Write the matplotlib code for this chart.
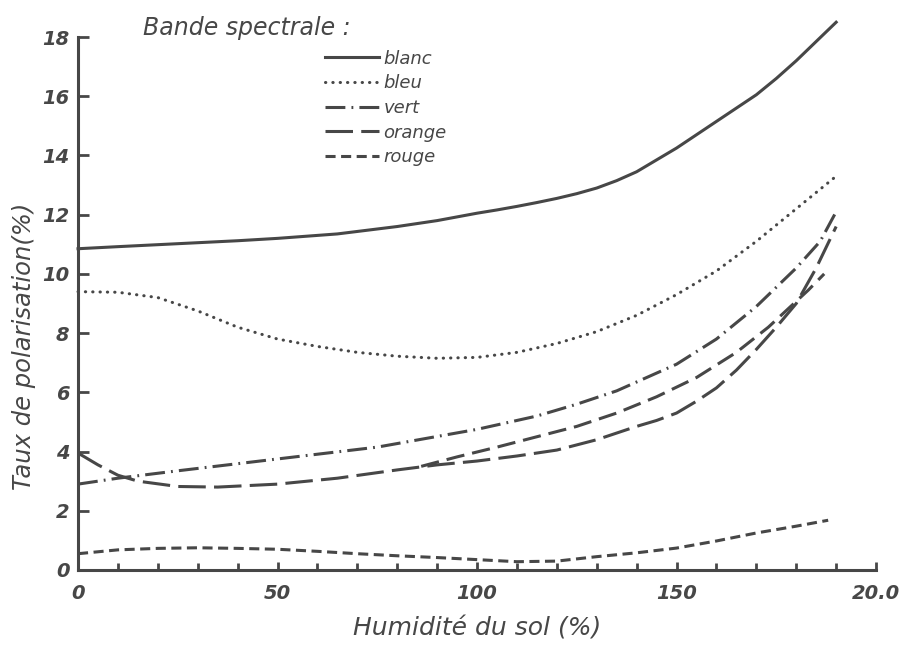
import matplotlib
matplotlib.use("Agg")
import matplotlib.pyplot as plt
from matplotlib.ticker import MultipleLocator

# values
x_blanc = [0, 10, 25, 40, 50, 65, 80, 90, 100, 105, 110, 115, 120, 125, 130, 135, 140, 145,
           150, 155, 160, 165, 170, 175, 180, 185, 190]
y_blanc = [10.85, 10.92, 11.02, 11.12, 11.2, 11.35, 11.6, 11.8, 12.05, 12.16, 12.28, 12.41, 12.55,
           12.71, 12.9, 13.15, 13.45, 13.85, 14.25, 14.7, 15.15, 15.6, 16.05, 16.6, 17.2, 17.85, 18.5]

x_bleu = [0, 10, 20, 30, 40, 50, 60, 70, 80, 90, 100, 110, 120, 130, 140, 150, 160, 170, 180, 190]
y_bleu = [9.4, 9.38, 9.2, 8.75, 8.2, 7.8, 7.55, 7.35, 7.22, 7.15, 7.18, 7.35, 7.65, 8.05, 8.6, 9.3, 10.1, 11.1, 12.2, 13.3]

x_vert = [0, 10, 25, 50, 75, 100, 115, 125, 135, 150, 160, 170, 180, 186, 190]
y_vert = [2.9, 3.1, 3.35, 3.75, 4.15, 4.75, 5.2, 5.6, 6.05, 6.95, 7.8, 8.9, 10.2, 11.1, 12.1]

x_orange = [0, 5, 10, 15, 25, 35, 50, 65, 80, 90, 100, 110, 120, 130, 140, 145, 150, 155, 160,
            165, 170, 175, 180, 185, 190]
y_orange = [3.95, 3.55, 3.2, 3.0, 2.82, 2.8, 2.9, 3.1, 3.38, 3.55, 3.68, 3.85, 4.05, 4.4, 4.85,
            5.05, 5.3, 5.7, 6.15, 6.75, 7.45, 8.2, 9.0, 10.2, 11.6]

# second long-dash curve branching off orange (no legend entry)
x_autre = [86, 95, 105, 115, 125, 135, 145, 155, 165, 173, 183, 187]
y_autre = [3.5, 3.82, 4.15, 4.5, 4.85, 5.3, 5.85, 6.5, 7.35, 8.2, 9.45, 10.0]

x_rouge = [0, 10, 20, 30, 40, 50, 60, 70, 80, 90, 100, 110, 120, 130, 140, 150, 160, 170, 180, 188]
y_rouge = [0.55, 0.68, 0.73, 0.75, 0.73, 0.7, 0.63, 0.55, 0.48, 0.42, 0.35, 0.28, 0.3, 0.45, 0.58, 0.74, 0.98, 1.25, 1.48, 1.68]

x_ticks = [0, 50, 100, 150, 200]
x_ticklabels = ["0", "50", "100", "150", "20.0"]
y_ticks = [0, 2, 4, 6, 8, 10, 12, 14, 16, 18]

ink = "#474747"
plt.rcParams['font.family'] = ['DejaVu Sans']
plt.rcParams['font.style'] = 'italic'

fig = plt.figure(figsize=(9, 6.45), dpi=100)
ax = fig.add_axes([0.0867, 0.1163, 0.8867, 0.8263])

lw = 2.2
ax.plot(x_blanc, y_blanc, color=ink, lw=lw, ls='-', label='blanc', clip_on=False)
ax.plot(x_bleu, y_bleu, color=ink, lw=lw, ls=(0, (0.1, 2.3)), dash_capstyle='round', label='bleu', clip_on=False)
ax.plot(x_vert, y_vert, color=ink, lw=lw, ls=(0, (6.5, 2.0, 0.6, 2.0)), label='vert', clip_on=False)
ax.plot(x_orange, y_orange, color=ink, lw=lw, ls=(0, (9, 2.7)), label='orange', clip_on=False)
ax.plot(x_autre, y_autre, color=ink, lw=lw, ls=(0, (6, 2.6)), clip_on=False)
ax.plot(x_rouge, y_rouge, color=ink, lw=lw, ls=(0, (3.3, 1.8)), label='rouge', clip_on=False)

ax.set_xlim(0, 200)
ax.set_ylim(0, 18)
for s in ['top', 'right']:
    ax.spines[s].set_visible(False)
for s in ['left', 'bottom']:
    ax.spines[s].set_color(ink)
    ax.spines[s].set_linewidth(2.2)

ax.set_xticks(x_ticks)
ax.set_xticklabels(x_ticklabels)
ax.set_yticks(y_ticks)
ax.xaxis.set_minor_locator(MultipleLocator(10))
ax.tick_params(axis='x', which='major', direction='in', length=6, width=2, color=ink,
               labelsize=14, labelcolor=ink, pad=10)
ax.tick_params(axis='x', which='minor', direction='in', length=5, width=2, color=ink)
ax.tick_params(axis='y', which='major', direction='in', length=8, width=2, color=ink,
               labelsize=14, labelcolor=ink, pad=6)
for lab in ax.get_xticklabels() + ax.get_yticklabels():
    lab.set_fontweight('bold')

ax.set_xlabel("Humidité du sol (%)", fontsize=18, color=ink, labelpad=10)
ax.set_ylabel("Taux de polarisation(%)", fontsize=17.5, color=ink)
ax.yaxis.set_label_coords(-0.053, 0.42)

ax.text(0.082, 1.017, "Bande spectrale :", transform=ax.transAxes, fontsize=17,
        color=ink, va='center', ha='left')
leg = ax.legend(loc='upper left', bbox_to_anchor=(0.30, 0.99), frameon=False,
                fontsize=13, handlelength=3.0, handletextpad=0.25,
                labelspacing=0.37, borderaxespad=0, labelcolor=ink)

plt.savefig('out.png', dpi=100)
